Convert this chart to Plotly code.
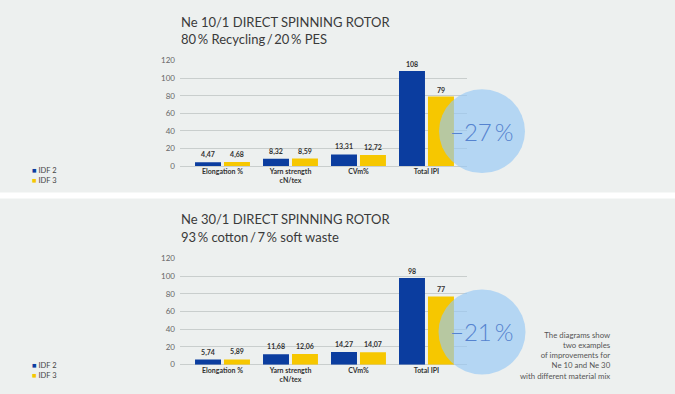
import plotly.graph_objects as go

W, H = 675, 394

categories = ["Elongation %", "Yarn strength<br>cN/tex", "CVm%", "Total IPI"]
series_names = ["IDF 2", "IDF 3"]

top_idf2 = [4.47, 8.32, 13.31, 108]
top_idf3 = [4.68, 8.59, 12.72, 79]
bot_idf2 = [5.74, 11.68, 14.27, 98]
bot_idf3 = [5.89, 12.06, 14.07, 77]

top_title = ["Ne 10/1 DIRECT SPINNING ROTOR", "80\u2009% Recycling\u2009/\u200920\u2009% PES"]
bot_title = ["Ne 30/1 DIRECT SPINNING ROTOR", "93\u2009% cotton\u2009/\u20097\u2009% soft waste"]
top_badge = "−27\u2009%"
bot_badge = "−21\u2009%"
note_lines = ["The diagrams show", "two examples", "of improvements for",
              "Ne 10 and Ne 30", "with different material mix"]
y_ticks = [0, 20, 40, 60, 80, 100, 120]

BLUE = "#0b3d9f"
YELLOW = "#f6c700"
colors = [BLUE, YELLOW]
FONT = "Lato"


def px(x):
    return x / W


def py(y):
    return 1 - y / H


def fmt(v):
    return f"{v:g}" if v >= 50 else f"{v:.2f}".replace(".", ",")


fig = go.Figure()

panels = [
    dict(xa="x", ya="y", data=[top_idf2, top_idf3]),
    dict(xa="x2", ya="y2", data=[bot_idf2, bot_idf3]),
]

for p in panels:
    for i, vals in enumerate(p["data"]):
        fig.add_trace(go.Bar(
            x=list(range(len(categories))), y=vals, name=series_names[i],
            marker=dict(color=colors[i], line=dict(width=0)),
            width=0.382, offset=-0.404 if i == 0 else 0.022,
            text=[f"<b>{fmt(v)}</b>" for v in vals],
            textposition="outside", cliponaxis=False,
            textfont=dict(family=FONT, size=7, color="#333333"),
            xaxis=p["xa"], yaxis=p["ya"], showlegend=False,
            hoverinfo="skip",
        ))

axis_common_x = dict(
    range=[-0.625, 3.596], tickmode="array",
    tickvals=list(range(len(categories))),
    ticktext=[f"<b>{c}</b>" for c in categories],
    tickfont=dict(family=FONT, size=7, color="#333333"),
    showgrid=False, zeroline=False, showline=False, ticks="",
    fixedrange=True,
)
axis_common_y = dict(
    range=[0, 120], tickmode="array", tickvals=y_ticks,
    tickfont=dict(family=FONT, size=8, color="#666666"),
    showgrid=True, gridcolor="#c9cecd", gridwidth=1,
    zeroline=True, zerolinecolor="#c9cecd", zerolinewidth=1,
    showline=False, ticks="", ticklabelstandoff=4,
)

fig.update_layout(
    width=W, height=H,
    margin=dict(l=0, r=0, t=0, b=0),
    paper_bgcolor="#edf0ef", plot_bgcolor="rgba(0,0,0,0)",
    barmode="overlay",
    xaxis=dict(domain=[px(180), px(467)], anchor="y", **axis_common_x),
    yaxis=dict(domain=[py(165.3), py(57)], anchor="x", **axis_common_y),
    xaxis2=dict(domain=[px(180), px(467)], anchor="y2", **axis_common_x),
    yaxis2=dict(domain=[py(369), py(260)], anchor="x2", **axis_common_y),
    showlegend=False,
)

shapes = []
# white separator band
shapes.append(dict(type="rect", xref="paper", yref="paper",
                   x0=0, x1=1, y0=py(198.5), y1=py(192.5),
                   fillcolor="#ffffff", line=dict(width=0), layer="below"))
# badge circles
for cx, cy, r in [(482, 129.5, 43), (482, 335.5, 43.5)]:
    shapes.append(dict(type="circle", xref="paper", yref="paper",
                       x0=px(cx - r), x1=px(cx + r), y0=py(cy + r), y1=py(cy - r),
                       fillcolor="rgba(150,200,245,0.66)", line=dict(width=0),
                       layer="above"))
fig.update_layout(shapes=shapes)

ann = []
for title, y1, y2 in [(top_title, 17, 35), (bot_title, 219.5, 238.5)]:
    ann.append(dict(text=title[0], x=px(179), y=py(y1), xref="paper", yref="paper",
                    xanchor="left", yanchor="middle", showarrow=False,
                    font=dict(family=FONT, size=13, color="#3a3a3a")))
    ann.append(dict(text=title[1], x=px(179), y=py(y2), xref="paper", yref="paper",
                    xanchor="left", yanchor="middle", showarrow=False,
                    font=dict(family=FONT, size=13, color="#3a3a3a")))

for badge, cy in [(top_badge, 129.5), (bot_badge, 335.5)]:
    ann.append(dict(text=badge, x=px(481), y=py(cy), xref="paper", yref="paper",
                    xanchor="center", yanchor="middle", showarrow=False,
                    font=dict(family=FONT, size=24, color="#5583cf", weight=300)))

# legends (one block per panel)
legend_text = "<br>".join(
    f"<span style='color:{colors[i]}'>■</span> {name}" for i, name in enumerate(series_names))
for cy in [174.5, 375.5]:
    ann.append(dict(text=legend_text, x=px(30), y=py(cy), xref="paper", yref="paper",
                    xanchor="left", yanchor="middle", align="left", showarrow=False,
                    font=dict(family=FONT, size=7.5, color="#444444")))

ann.append(dict(text="<br>".join(note_lines), x=px(613), y=py(359.5),
                xref="paper", yref="paper", xanchor="right", yanchor="middle",
                align="right", showarrow=False,
                font=dict(family=FONT, size=7.8, color="#555555")))

fig.update_layout(annotations=ann)

fig.write_html("out.html", config={"displayModeBar": False},
               post_script="document.body.style.margin='0';document.body.style.overflow='hidden';")
